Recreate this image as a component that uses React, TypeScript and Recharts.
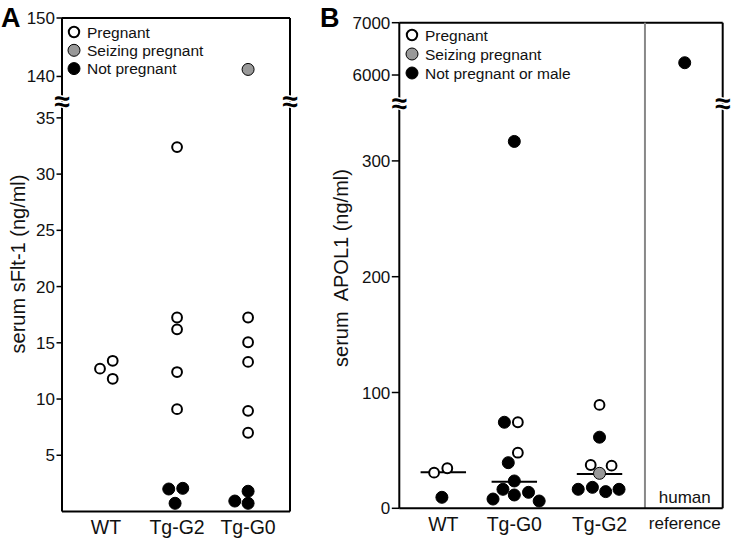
import React from 'react';
import { ScatterChart, Scatter, XAxis, YAxis, ReferenceLine, Legend } from 'recharts';

const FONT = '"Liberation Sans", Arial, Helvetica, sans-serif';
const INK = '#111';
const H = 541;

// ---- Panel A: serum sFlt-1 (ng/ml) ----
const A_GROUPS = ['WT', 'Tg-G2', 'Tg-G0'];
const A_POS = [1, 2, 3];
// rows are [group index, horizontal jitter, value]
const A_PREGNANT = [
  [0, -0.085, 12.7], [0, 0.094, 13.4], [0, 0.094, 11.8],
  [1, 0, 32.4], [1, 0, 17.25], [1, 0, 16.2], [1, 0, 12.4], [1, 0, 9.1],
  [2, 0, 17.25], [2, 0, 15.05], [2, 0, 13.3], [2, 0, 8.95], [2, 0, 7.0],
];
const A_SEIZING = [[2, 0, 141.2]];
const A_NOT_PREGNANT = [
  [1, -0.117, 2.0], [1, 0.08, 2.06], [1, -0.028, 0.73],
  [2, 0, 1.8], [2, -0.187, 0.93], [2, 0, 0.73],
];
const A_LOWER_TICKS = [5, 10, 15, 20, 25, 30, 35];
const A_UPPER_TICKS = [140, 150];
const A_LEGEND = ['Pregnant', 'Seizing pregnant', 'Not pregnant'];

// ---- Panel B: serum APOL1 (ng/ml) ----
const B_GROUPS = ['WT', 'Tg-G0', 'Tg-G2', 'human\nreference'];
const B_POS = [1, 2, 3.2, 4.4];
const B_PREGNANT = [
  [0, -0.13, 30.8], [0, 0.056, 34.6],
  [1, 0.05, 74.3], [1, 0.05, 48],
  [2, 0, 89.3], [2, -0.124, 37.4], [2, 0.17, 36.8],
];
const B_SEIZING = [[2, 0, 30.2]];
const B_NOT_PREGNANT = [
  [0, -0.02, 9.5],
  [1, 0, 316.8], [1, -0.14, 74.3], [1, -0.085, 39.4], [1, 0, 23.6], [1, -0.16, 16.4],
  [1, 0.2, 13.8], [1, 0, 11.5], [1, -0.3, 8.0], [1, 0.35, 6.3],
  [2, 0, 61.4], [2, -0.3, 16.4], [2, -0.1, 18.1], [2, 0.087, 14.4], [2, 0.275, 16.4],
  [3, 0, 6235],
];
const B_MEDIANS = [31.1, 23.0, 29.6];
const B_LOWER_TICKS = [0, 100, 200, 300];
const B_UPPER_TICKS = [6000, 7000];
const B_LEGEND = ['Pregnant', 'Seizing pregnant', 'Not pregnant or male'];

const FILLS = ['#ffffff', '#999999', '#000000'];

const dot = (fill: string) => (props: any) => {
  if (props.cx == null || props.cy == null) return <g />;
  const open = fill === '#ffffff';
  return (
    <circle cx={props.cx} cy={props.cy} r={open ? 4.9 : 6}
      fill={fill} stroke="#000" strokeWidth={open ? 2 : 1} />
  );
};

const toPoints = (rows: number[][], pos: number[]) =>
  rows.map(([g, j, v]) => ({ x: pos[g] + j, y: v }));

function LegendBox({ items, gap }: { items: string[]; gap: number }) {
  return (
    <svg width={200} height={gap * items.length} style={{ display: 'block', overflow: 'visible' }}>
      {items.map((label, i) => (
        <g key={label} transform={`translate(0, ${i * gap})`}>
          <circle cx={7} cy={7} r={i === 0 ? 5.2 : 6} fill={FILLS[i]} stroke="#000" strokeWidth={i === 0 ? 2 : 1} />
          <text x={20} y={7} dy="0.36em" fontSize={15.5} fontFamily={FONT} fill={INK}>{label}</text>
        </g>
      ))}
    </svg>
  );
}

type PanelProps = {
  left: number; width: number; axisWidth: number; marginRight: number;
  top: number; breakY: number; bottom: number; tickMargin: number; yTickSize: number;
  xDomain: [number, number]; upper: [number, number]; lower: [number, number];
  upperTicks: number[]; lowerTicks: number[];
  groups: string[]; pos: number[];
  pregnant: number[][]; seizing: number[][]; notPregnant: number[][];
  legend: string[]; legendLeft: number; legendTop: number; legendGap: number;
  medians?: number[]; dividerX?: number;
};

const AXIS_LINE = { stroke: '#000', strokeWidth: 2 };
const TICK_LINE = { stroke: '#000', strokeWidth: 1.5 };
const Y_TICK = { fontSize: 17, fill: INK, fontFamily: FONT };

function BrokenPanel(p: PanelProps) {
  const sets = [p.pregnant, p.seizing, p.notPregnant];
  const part = (rows: number[][], high: boolean) =>
    toPoints(rows, p.pos).filter((d) => (high ? d.y > p.lower[1] : d.y <= p.lower[1]));

  const xTick = (props: any) => {
    const { x, y, payload } = props;
    const i = p.pos.indexOf(payload.value);
    const lines = (p.groups[i] ?? '').split('\n');
    const multi = lines.length > 1;
    return (
      <g>
        {lines.map((t, k) => (
          <text key={k} x={x} y={y + (k - (lines.length - 1)) * 26.5} dy="0.71em" textAnchor="middle"
            fontSize={multi ? 17 : 19.5} fontFamily={FONT} fill={INK}>{t}</text>
        ))}
      </g>
    );
  };

  const divider = (id: string) =>
    p.dividerX != null ? (
      <ReferenceLine key={id} yAxisId="l" x={p.dividerX} stroke="#888" strokeWidth={2} />
    ) : null;

  return (
    <div style={{ position: 'absolute', left: p.left, top: 0, width: p.width, height: H }}>
      <div style={{ position: 'absolute', left: 0, top: 0 }}>
        <ScatterChart width={p.width} height={H}
          margin={{ top: p.top, right: p.marginRight, bottom: H - p.breakY, left: 0 }}>
          <XAxis type="number" dataKey="x" domain={p.xDomain} hide allowDataOverflow />
          <YAxis yAxisId="l" type="number" dataKey="y" domain={p.upper} ticks={p.upperTicks}
            width={p.axisWidth} tickSize={p.yTickSize} tickMargin={1.5} axisLine={AXIS_LINE} tickLine={TICK_LINE}
            tick={Y_TICK} allowDataOverflow interval={0} />
          <YAxis yAxisId="r" orientation="right" type="number" domain={p.upper} tick={false}
            tickLine={false} width={1} axisLine={AXIS_LINE} allowDataOverflow />
          <ReferenceLine yAxisId="l" y={p.upper[1]} stroke="#000" strokeWidth={2} />
          {divider('du')}
          {sets.map((rows, i) => (
            <Scatter key={i} yAxisId="l" data={part(rows, true)} fill={FILLS[i]}
              shape={dot(FILLS[i])} isAnimationActive={false} />
          ))}
          <Legend layout="vertical" align="center" verticalAlign="middle"
            wrapperStyle={{ top: p.legendTop, left: p.legendLeft, width: 'auto', height: 'auto' }}
            content={() => <LegendBox items={p.legend} gap={p.legendGap} />} />
        </ScatterChart>
      </div>
      <div style={{ position: 'absolute', left: 0, top: 0 }}>
        <ScatterChart width={p.width} height={H}
          margin={{ top: p.breakY, right: p.marginRight, bottom: 0, left: 0 }}>
          <XAxis type="number" dataKey="x" domain={p.xDomain} ticks={p.pos} interval={0}
            height={H - p.bottom} tickLine={false} tickSize={0} tickMargin={p.tickMargin}
            axisLine={AXIS_LINE} tick={xTick} allowDataOverflow />
          <YAxis yAxisId="l" type="number" dataKey="y" domain={p.lower} ticks={p.lowerTicks}
            width={p.axisWidth} tickSize={p.yTickSize} tickMargin={1.5} axisLine={AXIS_LINE} tickLine={TICK_LINE}
            tick={Y_TICK} allowDataOverflow interval={0} />
          <YAxis yAxisId="r" orientation="right" type="number" domain={p.lower} tick={false}
            tickLine={false} width={1} axisLine={AXIS_LINE} allowDataOverflow />
          {divider('dl')}
          {(p.medians ?? []).map((m, i) => (
            <ReferenceLine key={`m${i}`} yAxisId="l" stroke="#000" strokeWidth={2}
              segment={[{ x: p.pos[i] - 0.32, y: m }, { x: p.pos[i] + 0.32, y: m }]} />
          ))}
          {sets.map((rows, i) => (
            <Scatter key={i} yAxisId="l" data={part(rows, false)} fill={FILLS[i]}
              shape={dot(FILLS[i])} isAnimationActive={false} />
          ))}
        </ScatterChart>
      </div>
    </div>
  );
}

function BreakMark({ x, y }: { x: number; y: number }) {
  return (
    <text x={x} y={y} dy="0.35em" textAnchor="middle" fontSize={28} fontWeight="bold"
      fontFamily={FONT} fill="#000" stroke="#fff" strokeWidth={3} paintOrder="stroke">≈</text>
  );
}

export default function App() {
  return (
    <div style={{ position: 'absolute', left: 0, top: 0, width: 733, height: H, background: '#fff', fontFamily: FONT }}>
      <BrokenPanel
        left={0} width={300} axisWidth={62} marginRight={9}
        top={18} breakY={101} bottom={511.5} tickMargin={8.5} yTickSize={5.5}
        xDomain={[0.38, 3.59]} upper={[135.8, 150]} lower={[0, 36.5]}
        upperTicks={A_UPPER_TICKS} lowerTicks={A_LOWER_TICKS}
        groups={A_GROUPS} pos={A_POS}
        pregnant={A_PREGNANT} seizing={A_SEIZING} notPregnant={A_NOT_PREGNANT}
        legend={A_LEGEND} legendLeft={67} legendTop={25} legendGap={18.3}
      />
      <BrokenPanel
        left={300} width={433} axisWidth={99.3} marginRight={9.3}
        top={22.7} breakY={103} bottom={508.3} tickMargin={9} yTickSize={7.5}
        xDomain={[0.38, 4.935]} upper={[5465, 7000]} lower={[0, 350]}
        upperTicks={B_UPPER_TICKS} lowerTicks={B_LOWER_TICKS}
        groups={B_GROUPS} pos={B_POS}
        pregnant={B_PREGNANT} seizing={B_SEIZING} notPregnant={B_NOT_PREGNANT}
        legend={B_LEGEND} legendLeft={104.7} legendTop={27.7} legendGap={19}
        medians={B_MEDIANS} dividerX={3.84}
      />
      <svg width={733} height={H} style={{ position: 'absolute', left: 0, top: 0, pointerEvents: 'none' }}>
        <text x={1} y={27} fontSize={27} fontWeight="bold" fontFamily={FONT} fill="#000">A</text>
        <text x={320} y={27} fontSize={27} fontWeight="bold" fontFamily={FONT} fill="#000">B</text>
        <text transform="translate(18,264) rotate(-90)" dy="0.35em" textAnchor="middle"
          fontSize={20} fontFamily={FONT} fill={INK}>serum sFlt-1 (ng/ml)</text>
        <text transform="translate(341,268) rotate(-90)" dy="0.35em" textAnchor="middle"
          fontSize={20} fontFamily={FONT} fill={INK} style={{ whiteSpace: 'pre' }}>serum  APOL1 (ng/ml)</text>
        <BreakMark x={62} y={101} />
        <BreakMark x={290} y={101} />
        <BreakMark x={399.3} y={103} />
        <BreakMark x={722.7} y={103} />
      </svg>
    </div>
  );
}
